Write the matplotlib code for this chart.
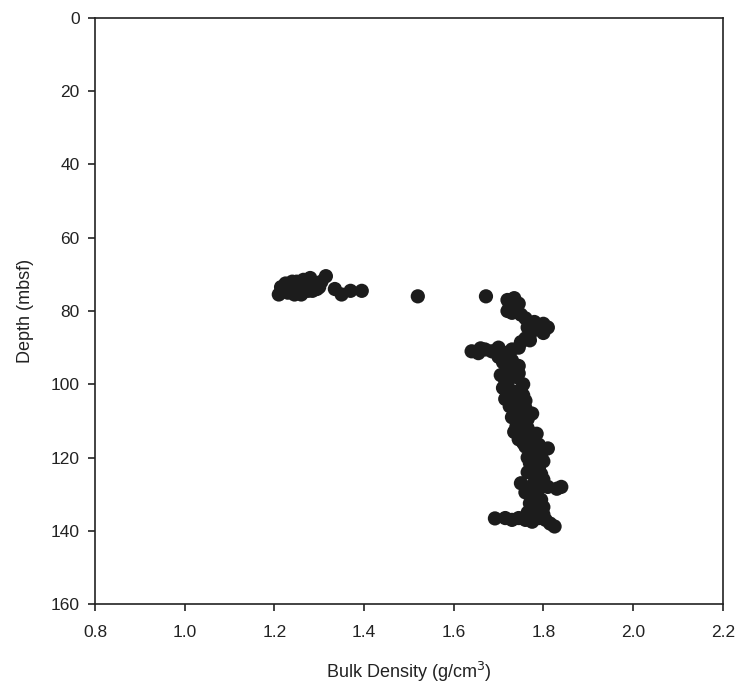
import matplotlib
matplotlib.use("Agg")
import matplotlib.pyplot as plt

plt.rcParams['font.family'] = ['Liberation Sans', 'DejaVu Sans']

# Upper (shallow) cluster
upper_density = [1.21, 1.215, 1.225, 1.23, 1.24, 1.245, 1.25, 1.26, 1.265, 1.27,
                 1.28, 1.285, 1.29, 1.30, 1.315, 1.335, 1.35, 1.37, 1.395, 1.52,
                 1.22, 1.235, 1.255, 1.275, 1.295, 1.305, 1.24, 1.26]
upper_depth = [75.5, 73.5, 72.5, 75.0, 73.5, 75.5, 72.0, 74.0, 71.5, 73.0,
               71.0, 74.5, 72.5, 73.5, 70.5, 74.0, 75.5, 74.5, 74.5, 76.0,
               74.5, 74.0, 73.0, 74.5, 74.0, 72.0, 72.0, 75.5]

# Lower column
lower_density = [1.672,
                 1.72, 1.735, 1.725, 1.74, 1.73, 1.75, 1.745, 1.72,
                 1.76, 1.78, 1.80, 1.81, 1.79, 1.80, 1.77, 1.76, 1.75, 1.77, 1.79, 1.765,
                 1.64, 1.655, 1.67, 1.685, 1.70, 1.715, 1.73, 1.745, 1.70, 1.66, 1.72,
                 1.71, 1.73, 1.745, 1.72, 1.705, 1.74, 1.72, 1.755, 1.71, 1.735,
                 1.755, 1.715, 1.74, 1.725, 1.76, 1.745, 1.775, 1.73, 1.755, 1.74,
                 1.765, 1.735, 1.76, 1.745, 1.775, 1.79, 1.81, 1.76, 1.78, 1.795,
                 1.765, 1.80, 1.775, 1.79, 1.765, 1.78, 1.80, 1.75, 1.77, 1.79,
                 1.81, 1.83, 1.84, 1.76, 1.78, 1.795, 1.77, 1.785, 1.765, 1.80,
                 1.692, 1.715, 1.73, 1.745, 1.76, 1.775, 1.79, 1.805, 1.815, 1.825,
                 1.725, 1.745, 1.715, 1.75, 1.73, 1.76, 1.735, 1.765, 1.75, 1.785,
                 1.755, 1.79, 1.77, 1.795, 1.78, 1.785, 1.775, 1.80]
lower_depth = [76.0,
               77.0, 76.5, 78.5, 79.5, 80.5, 81.0, 78.0, 80.0,
               82.0, 83.0, 83.5, 84.5, 85.0, 86.0, 86.5, 87.5, 88.5, 88.0, 84.0, 84.5,
               91.0, 91.5, 90.5, 91.0, 90.0, 91.5, 90.5, 90.0, 92.5, 90.2, 92.8,
               94.0, 93.5, 95.0, 96.0, 97.5, 98.0, 99.5, 100.0, 101.0, 102.0,
               103.0, 104.0, 105.0, 106.0, 106.5, 107.5, 108.0, 109.0, 110.0, 111.5,
               112.0, 113.0, 114.0, 115.0, 115.5, 116.5, 117.5, 117.0, 118.5, 119.5,
               120.0, 121.0, 122.0, 123.0, 124.0, 125.0, 126.0, 127.0, 128.0, 128.5,
               128.0, 128.5, 128.0, 129.5, 130.5, 131.5, 132.5, 134.0, 135.0, 135.5,
               136.6, 136.5, 137.0, 136.5, 137.0, 137.5, 136.5, 137.0, 138.0, 138.8,
               95.5, 97.0, 99.0, 101.5, 103.5, 104.5, 107.0, 109.5, 112.5, 113.5,
               116.0, 118.0, 121.5, 124.5, 127.0, 130.0, 133.0, 133.5]

x_ticks = [0.8, 1.0, 1.2, 1.4, 1.6, 1.8, 2.0, 2.2]
y_ticks = [0, 20, 40, 60, 80, 100, 120, 140, 160]

fig = plt.figure(figsize=(7.42, 6.85), dpi=100)
ax = fig.add_axes([0.128, 0.118, 0.846, 0.856])

dot_color = '#1c1c1c'
ax.scatter(upper_density, upper_depth, s=105, color=dot_color, edgecolors='none', zorder=3)
ax.scatter(lower_density, lower_depth, s=105, color=dot_color, edgecolors='none', zorder=3)

ax.set_xlim(0.8, 2.2)
ax.set_ylim(160, 0)
ax.set_xticks(x_ticks)
ax.set_xticklabels([f"{v:.1f}" for v in x_ticks])
ax.set_yticks(y_ticks)
ax.set_yticklabels([str(v) for v in y_ticks])

for sp in ax.spines.values():
    sp.set_linewidth(1.2)
    sp.set_color('#222222')
ax.tick_params(axis='both', direction='out', length=5, width=1.2, labelsize=12.5,
               colors='#222222', top=False, right=False)
ax.tick_params(axis='x', pad=10)
ax.tick_params(axis='y', pad=6)

ax.set_xlabel('Bulk Density (g/cm$^3$)', fontsize=13, labelpad=14, color='#222222')
ax.set_ylabel('Depth (mbsf)', fontsize=13, labelpad=12, color='#222222')

fig.savefig('out.png', dpi=100)
